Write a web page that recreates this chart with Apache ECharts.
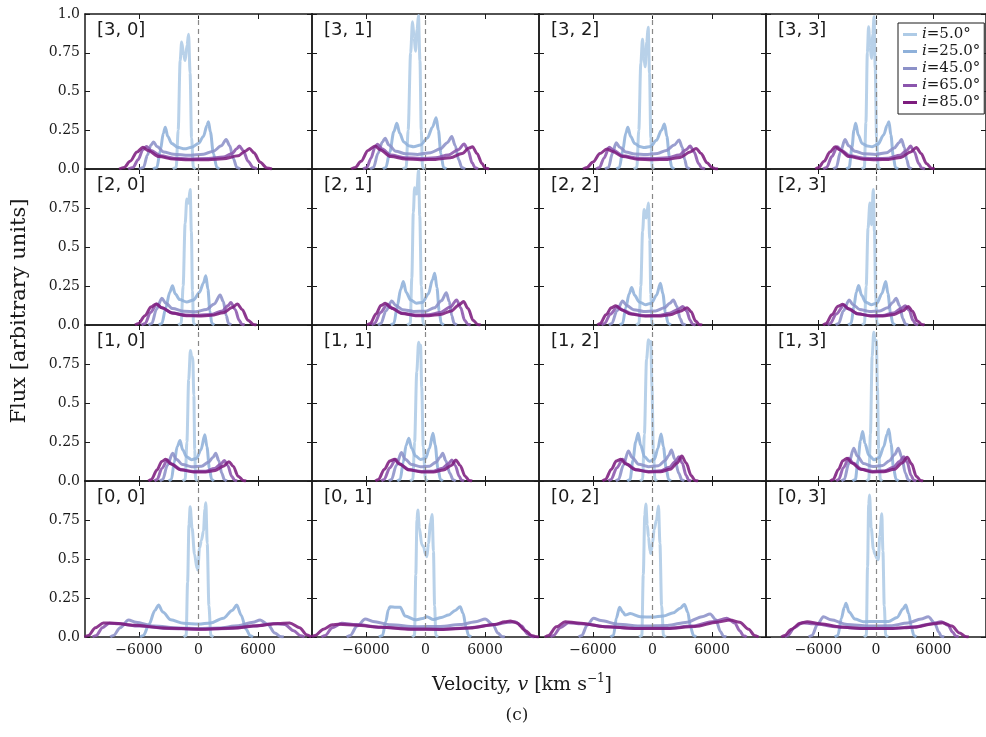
<!DOCTYPE html>
<html><head><meta charset="utf-8">
<script src="https://cdn.jsdelivr.net/npm/echarts@6/dist/echarts.min.js"></script>
<style>html,body{margin:0;padding:0;background:#fff}#c{width:986px;height:737px}</style>
</head><body><div id="c"></div>
<script>
const inclinations = ['i=5.0°','i=25.0°','i=45.0°','i=65.0°','i=85.0°'];
const lineColors = ['#aecbe6','#8fb1da','#8c91c8','#8b55ad','#7d1c7e'];
const xTicks = [-6000, 0, 6000];
const yTickLabels = {0:'0.0', 0.25:'0.25', 0.5:'0.5', 0.75:'0.75', 1:'1.0'};

// each panel: profiles for i = 5, 25, 45, 65, 85 deg, points [velocity km/s, flux]
const P30 = [
 [[-2600,0],[-2250,0.01],[-2050,0.25],[-1850,0.7],[-1700,0.82],[-1500,0.74],[-1350,0.7],[-1150,0.8],[-1000,0.87],[-850,0.62],[-700,0.2],[-520,0.01],[-300,0]],
 [[-4600,0],[-4200,0.01],[-3850,0.12],[-3550,0.23],[-3350,0.27],[-3100,0.21],[-2700,0.165],[-2100,0.14],[-1400,0.13],[-700,0.14],[0,0.165],[500,0.21],[850,0.28],[1000,0.305],[1200,0.24],[1500,0.1],[1850,0.01],[2100,0]],
 [[-6000,0],[-5550,0.01],[-5150,0.09],[-4800,0.155],[-4530,0.175],[-4200,0.145],[-3500,0.11],[-2500,0.095],[-1000,0.088],[500,0.095],[1500,0.115],[2300,0.15],[2790,0.19],[3150,0.15],[3500,0.07],[3870,0.01],[4200,0]],
 [[-7100,0],[-6600,0.01],[-6100,0.06],[-5600,0.125],[-5250,0.145],[-4800,0.12],[-3800,0.085],[-2500,0.07],[-1000,0.065],[1000,0.067],[2500,0.078],[3400,0.1],[3850,0.13],[4130,0.148],[4500,0.12],[5000,0.05],[5500,0.01],[5900,0]],
 [[-8000,0],[-7500,0.01],[-6900,0.05],[-6200,0.11],[-5600,0.14],[-5100,0.12],[-4000,0.08],[-2500,0.064],[-1000,0.06],[1000,0.06],[2500,0.066],[4000,0.085],[4700,0.115],[5140,0.133],[5600,0.105],[6200,0.045],[6900,0.006],[7400,0]]
];
const P31 = [
 [[-2300,0],[-1950,0.01],[-1750,0.25],[-1500,0.75],[-1310,0.95],[-1150,0.85],[-1010,0.76],[-850,0.9],[-710,0.99],[-560,0.7],[-430,0.25],[-300,0.01],[-100,0]],
 [[-4300,0],[-4000,0.01],[-3600,0.11],[-3200,0.24],[-2890,0.295],[-2600,0.23],[-2200,0.175],[-1700,0.15],[-1200,0.143],[-500,0.155],[200,0.2],[700,0.27],[1076,0.331],[1300,0.25],[1550,0.1],[1815,0.01],[2100,0]],
 [[-5600,0],[-5240,0.01],[-4800,0.1],[-4350,0.175],[-4070,0.198],[-3700,0.155],[-3000,0.115],[-2000,0.098],[-800,0.094],[500,0.105],[1500,0.13],[2200,0.17],[2655,0.209],[3000,0.15],[3350,0.06],[3660,0.01],[4000,0]],
 [[-6300,0],[-5920,0.01],[-5500,0.07],[-5100,0.14],[-4840,0.159],[-4400,0.13],[-3500,0.09],[-2000,0.073],[-500,0.068],[1000,0.072],[2300,0.09],[3300,0.125],[3900,0.161],[4300,0.12],[4700,0.04],[5000,0.008],[5300,0]],
 [[-7500,0],[-7090,0.01],[-6500,0.05],[-5800,0.12],[-5075,0.148],[-4600,0.125],[-3500,0.08],[-2000,0.065],[-500,0.06],[1000,0.062],[2500,0.072],[3700,0.1],[4400,0.135],[4740,0.144],[5200,0.1],[5700,0.035],[6020,0.006],[6400,0]]
];
const P32 = [
 [[-1900,0],[-1580,0.01],[-1380,0.25],[-1180,0.68],[-1008,0.837],[-870,0.72],[-740,0.66],[-580,0.82],[-437,0.914],[-300,0.62],[-170,0.2],[-34,0.01],[150,0]],
 [[-3650,0],[-3330,0.01],[-3000,0.12],[-2700,0.23],[-2487,0.269],[-2200,0.21],[-1800,0.165],[-1300,0.145],[-800,0.138],[-200,0.145],[400,0.185],[900,0.25],[1210,0.29],[1450,0.21],[1700,0.08],[1950,0.01],[2200,0]],
 [[-4800,0],[-4437,0.01],[-4050,0.1],[-3664,0.17],[-3300,0.14],[-2700,0.11],[-1800,0.097],[-700,0.093],[500,0.1],[1400,0.12],[2200,0.155],[2689,0.187],[3000,0.14],[3250,0.06],[3462,0.01],[3750,0]],
 [[-5700,0],[-5344,0.01],[-4900,0.07],[-4370,0.14],[-3900,0.12],[-3000,0.085],[-1500,0.07],[0,0.068],[1500,0.072],[2700,0.09],[3400,0.125],[3800,0.148],[4200,0.11],[4650,0.035],[4975,0.006],[5300,0]],
 [[-7000,0],[-6620,0.01],[-6000,0.045],[-5300,0.1],[-4605,0.129],[-4100,0.115],[-3000,0.08],[-1500,0.063],[0,0.06],[1500,0.062],[2800,0.075],[3800,0.11],[4403,0.133],[4900,0.1],[5500,0.04],[6000,0.01],[6320,0.002],[6600,0]]
];
const P33 = [
 [[-1500,0],[-1210,0.01],[-1050,0.3],[-900,0.75],[-773,0.918],[-620,0.79],[-470,0.714],[-330,0.87],[-200,0.983],[-80,0.65],[60,0.2],[235,0.01],[450,0]],
 [[-3100,0],[-2790,0.01],[-2500,0.14],[-2300,0.25],[-2118,0.295],[-1850,0.22],[-1450,0.165],[-900,0.148],[-400,0.144],[200,0.16],[800,0.22],[1150,0.28],[1345,0.305],[1550,0.22],[1800,0.08],[2017,0.01],[2300,0]],
 [[-4450,0],[-4134,0.01],[-3700,0.11],[-3227,0.19],[-2850,0.15],[-2200,0.115],[-1300,0.098],[0,0.094],[1100,0.105],[1900,0.135],[2400,0.17],[2655,0.19],[2950,0.14],[3200,0.06],[3430,0.01],[3700,0]],
 [[-5500,0],[-5140,0.01],[-4600,0.08],[-4034,0.144],[-3600,0.12],[-2700,0.085],[-1300,0.07],[0,0.067],[1300,0.07],[2500,0.088],[3200,0.12],[3597,0.148],[4000,0.11],[4450,0.035],[4770,0.006],[5100,0]],
 [[-6300,0],[-5980,0.01],[-5400,0.05],[-4800,0.11],[-4235,0.144],[-3800,0.125],[-2800,0.08],[-1300,0.063],[0,0.06],[1300,0.062],[2600,0.075],[3600,0.11],[4200,0.138],[4700,0.1],[5250,0.035],[5780,0.005],[6100,0]]
];
const P20 = [
 [[-2050,0],[-1748,0.01],[-1550,0.25],[-1350,0.65],[-1176,0.808],[-1010,0.78],[-840,0.868],[-720,0.6],[-610,0.22],[-504,0.01],[-300,0]],
 [[-4000,0],[-3700,0.01],[-3300,0.11],[-2900,0.21],[-2622,0.251],[-2350,0.2],[-1900,0.163],[-1200,0.148],[-500,0.16],[100,0.21],[500,0.27],[740,0.315],[950,0.23],[1150,0.09],[1345,0.01],[1600,0]],
 [[-5050,0],[-4700,0.01],[-4250,0.1],[-3700,0.171],[-3300,0.14],[-2600,0.105],[-1500,0.088],[-300,0.085],[800,0.1],[1600,0.135],[2185,0.193],[2500,0.15],[2800,0.06],[3025,0.01],[3300,0]],
 [[-5750,0],[-5380,0.01],[-4850,0.08],[-4200,0.135],[-3700,0.11],[-2700,0.078],[-1300,0.064],[0,0.062],[1300,0.068],[2400,0.09],[3000,0.125],[3260,0.144],[3700,0.1],[4100,0.03],[4370,0.005],[4650,0]],
 [[-6400,0],[-6050,0.01],[-5400,0.06],[-4800,0.115],[-4270,0.135],[-3700,0.11],[-2600,0.075],[-1200,0.06],[0,0.058],[1300,0.062],[2500,0.078],[3400,0.112],[3930,0.135],[4400,0.1],[5000,0.03],[5550,0.004],[5850,0]]
];
const P21 = [
 [[-1850,0],[-1540,0.01],[-1380,0.3],[-1230,0.72],[-1100,0.88],[-900,0.84],[-700,0.99],[-580,0.7],[-420,0.25],[-240,0.01],[-50,0]],
 [[-3500,0],[-3186,0.01],[-2850,0.12],[-2500,0.23],[-2232,0.279],[-1950,0.21],[-1500,0.16],[-900,0.14],[-300,0.145],[300,0.2],[700,0.29],[932,0.332],[1150,0.24],[1380,0.09],[1582,0.01],[1850,0]],
 [[-4800,0],[-4486,0.01],[-4000,0.09],[-3403,0.154],[-3000,0.125],[-2300,0.098],[-1200,0.087],[0,0.088],[900,0.11],[1600,0.155],[2102,0.206],[2400,0.15],[2650,0.06],[2882,0.01],[3150,0]],
 [[-5450,0],[-5136,0.01],[-4550,0.08],[-3836,0.133],[-3300,0.105],[-2300,0.075],[-1000,0.064],[300,0.065],[1500,0.08],[2500,0.115],[3143,0.161],[3550,0.11],[3950,0.03],[4270,0.005],[4550,0]],
 [[-5900,0],[-5570,0.01],[-5000,0.07],[-4500,0.125],[-4053,0.139],[-3500,0.11],[-2400,0.074],[-1000,0.06],[300,0.06],[1500,0.067],[2600,0.09],[3400,0.13],[3836,0.15],[4300,0.105],[4800,0.03],[5266,0.004],[5550,0]]
];
const P22 = [
 [[-1650,0],[-1365,0.01],[-1180,0.25],[-1000,0.6],[-845,0.74],[-630,0.686],[-412,0.782],[-280,0.55],[-170,0.2],[-65,0.01],[150,0]],
 [[-3300,0],[-3013,0.01],[-2700,0.11],[-2350,0.2],[-2102,0.24],[-1800,0.19],[-1350,0.148],[-700,0.13],[-100,0.14],[400,0.19],[802,0.268],[1050,0.2],[1300,0.08],[1582,0.01],[1850,0]],
 [[-4400,0],[-4096,0.01],[-3600,0.09],[-3013,0.154],[-2600,0.125],[-1900,0.098],[-900,0.087],[300,0.09],[1200,0.11],[1750,0.14],[2102,0.161],[2450,0.12],[2800,0.04],[3056,0.006],[3350,0]],
 [[-5150,0],[-4833,0.01],[-4250,0.07],[-3533,0.118],[-3000,0.095],[-2000,0.07],[-700,0.06],[600,0.061],[1700,0.075],[2600,0.1],[3056,0.118],[3450,0.09],[3800,0.03],[4053,0.005],[4350,0]],
 [[-5550,0],[-5266,0.01],[-4700,0.065],[-4150,0.11],[-3706,0.124],[-3200,0.1],[-2200,0.07],[-800,0.057],[600,0.057],[1800,0.066],[2800,0.088],[3490,0.111],[3900,0.085],[4350,0.025],[4703,0.004],[5000,0]]
];
const P23 = [
 [[-1450,0],[-1196,0.01],[-1020,0.25],[-830,0.62],[-633,0.782],[-460,0.643],[-286,0.868],[-160,0.6],[-40,0.2],[104,0.01],[300,0]],
 [[-2900,0],[-2584,0.01],[-2300,0.12],[-2050,0.21],[-1804,0.253],[-1500,0.19],[-1100,0.148],[-500,0.13],[100,0.14],[600,0.2],[1014,0.279],[1250,0.2],[1500,0.08],[1751,0.01],[2000,0]],
 [[-4200,0],[-3885,0.01],[-3400,0.09],[-2801,0.161],[-2400,0.13],[-1700,0.1],[-700,0.087],[400,0.09],[1200,0.11],[1750,0.145],[2098,0.171],[2450,0.125],[2800,0.04],[3052,0.006],[3350,0]],
 [[-5050,0],[-4752,0.01],[-4150,0.07],[-3321,0.129],[-2800,0.1],[-1800,0.07],[-500,0.06],[700,0.061],[1800,0.077],[2600,0.105],[3052,0.124],[3450,0.095],[3850,0.03],[4135,0.005],[4400,0]],
 [[-5500,0],[-5186,0.01],[-4600,0.065],[-3950,0.12],[-3451,0.133],[-2900,0.105],[-1900,0.072],[-600,0.058],[700,0.058],[1900,0.068],[2800,0.092],[3355,0.118],[3800,0.088],[4300,0.025],[4785,0.004],[5050,0]]
];
const P10 = [
 [[-1600,0],[-1338,0.01],[-1170,0.25],[-990,0.65],[-817,0.837],[-700,0.8],[-580,0.79],[-470,0.55],[-380,0.2],[-296,0.01],[-100,0]],
 [[-3000,0],[-2729,0.01],[-2450,0.12],[-2150,0.22],[-1860,0.259],[-1600,0.2],[-1200,0.155],[-700,0.137],[-200,0.145],[250,0.2],[637,0.296],[850,0.22],[1100,0.08],[1327,0.01],[1550,0]],
 [[-3900,0],[-3598,0.01],[-3150,0.1],[-2607,0.178],[-2250,0.14],[-1600,0.105],[-700,0.092],[300,0.095],[1000,0.12],[1450,0.15],[1738,0.178],[2050,0.13],[2350,0.05],[2607,0.008],[2850,0]],
 [[-4450,0],[-4171,0.01],[-3700,0.08],[-3128,0.135],[-2650,0.105],[-1700,0.072],[-500,0.061],[700,0.063],[1600,0.08],[2200,0.105],[2607,0.131],[2950,0.1],[3350,0.03],[3650,0.005],[3900,0]],
 [[-5050,0],[-4750,0.01],[-4200,0.07],[-3700,0.125],[-3302,0.139],[-2800,0.11],[-1800,0.072],[-500,0.058],[700,0.058],[1700,0.068],[2500,0.095],[3070,0.124],[3500,0.095],[4000,0.03],[4519,0.004],[4800,0]]
];
const P11 = [
 [[-1550,0],[-1275,0.01],[-1100,0.25],[-880,0.7],[-695,0.889],[-600,0.86],[-500,0.87],[-380,0.6],[-230,0.22],[0,0.01],[200,0]],
 [[-2850,0],[-2549,0.01],[-2250,0.12],[-1950,0.23],[-1680,0.274],[-1400,0.21],[-1000,0.16],[-500,0.138],[0,0.145],[400,0.21],[753,0.306],[980,0.23],[1250,0.08],[1506,0.01],[1750,0]],
 [[-3700,0],[-3418,0.01],[-2950,0.1],[-2433,0.182],[-2050,0.14],[-1400,0.105],[-500,0.092],[400,0.095],[1050,0.12],[1450,0.15],[1738,0.178],[2050,0.13],[2450,0.05],[2780,0.008],[3050,0]],
 [[-4450,0],[-4171,0.01],[-3600,0.085],[-3013,0.139],[-2550,0.105],[-1600,0.072],[-400,0.061],[800,0.063],[1700,0.082],[2300,0.11],[2665,0.135],[3000,0.1],[3400,0.03],[3650,0.005],[3900,0]],
 [[-5050,0],[-4750,0.01],[-4150,0.075],[-3600,0.128],[-3128,0.139],[-2650,0.11],[-1700,0.072],[-400,0.058],[800,0.058],[1800,0.07],[2600,0.1],[3070,0.135],[3500,0.1],[4000,0.03],[4403,0.004],[4700,0]]
];
const P12 = [
 [[-1250,0],[-1000,0.01],[-820,0.3],[-600,0.78],[-405,0.906],[-290,0.88],[-174,0.895],[-50,0.6],[80,0.2],[250,0.01],[450,0]],
 [[-2550,0],[-2260,0.01],[-1980,0.13],[-1700,0.25],[-1448,0.306],[-1200,0.23],[-800,0.155],[-300,0.126],[200,0.14],[550,0.21],[869,0.302],[1100,0.22],[1380,0.08],[1622,0.01],[1850,0]],
 [[-3700,0],[-3418,0.01],[-2950,0.1],[-2433,0.193],[-2050,0.15],[-1400,0.108],[-400,0.092],[600,0.098],[1250,0.13],[1650,0.165],[1912,0.199],[2250,0.14],[2650,0.05],[2955,0.008],[3200,0]],
 [[-4450,0],[-4171,0.01],[-3600,0.085],[-3013,0.139],[-2550,0.105],[-1600,0.072],[-400,0.061],[800,0.065],[1700,0.088],[2300,0.125],[2665,0.156],[3000,0.115],[3400,0.035],[3650,0.005],[3900,0]],
 [[-5050,0],[-4750,0.01],[-4150,0.075],[-3650,0.128],[-3186,0.139],[-2700,0.11],[-1700,0.072],[-400,0.058],[800,0.06],[1800,0.075],[2500,0.115],[2955,0.161],[3400,0.115],[3900,0.035],[4288,0.004],[4600,0]]
];
const P13 = [
 [[-1000,0],[-750,0.01],[-580,0.3],[-400,0.8],[-232,0.953],[-100,0.9],[40,0.9],[150,0.6],[280,0.2],[450,0.01],[650,0]],
 [[-2450,0],[-2144,0.01],[-1880,0.13],[-1620,0.26],[-1390,0.317],[-1150,0.24],[-750,0.165],[-200,0.137],[350,0.15],[800,0.22],[1150,0.3],[1333,0.332],[1560,0.24],[1830,0.08],[2086,0.01],[2350,0]],
 [[-3600,0],[-3302,0.01],[-2850,0.11],[-2317,0.21],[-1950,0.16],[-1300,0.112],[-300,0.093],[700,0.1],[1400,0.13],[1950,0.17],[2317,0.21],[2700,0.15],[3050,0.05],[3360,0.008],[3600,0]],
 [[-4150,0],[-3882,0.01],[-3400,0.085],[-2839,0.146],[-2400,0.115],[-1500,0.076],[-300,0.061],[900,0.066],[1800,0.088],[2450,0.125],[2897,0.156],[3250,0.12],[3650,0.035],[3940,0.005],[4200,0]],
 [[-4750,0],[-4461,0.01],[-3900,0.075],[-3450,0.13],[-3013,0.146],[-2500,0.115],[-1600,0.075],[-400,0.058],[800,0.06],[1900,0.075],[2700,0.115],[3244,0.152],[3700,0.11],[4200,0.03],[4635,0.004],[4900,0]]
];
const P00 = [
 [[-1500,0],[-1245,0.01],[-1100,0.35],[-960,0.72],[-840,0.835],[-650,0.7],[-400,0.53],[-150,0.44],[-67,0.43],[100,0.57],[300,0.62],[500,0.68],[650,0.82],[740,0.861],[880,0.6],[1050,0.2],[1245,0.01],[1500,0]],
 [[-5900,0],[-5546,0.01],[-5000,0.08],[-4400,0.17],[-4033,0.205],[-3600,0.16],[-2800,0.11],[-1500,0.088],[0,0.083],[1200,0.09],[2500,0.12],[3400,0.17],[3865,0.205],[4300,0.14],[4800,0.05],[5210,0.008],[5500,0]],
 [[-8900,0],[-8571,0.01],[-7900,0.06],[-7059,0.109],[-6300,0.095],[-4500,0.07],[-2000,0.058],[0,0.055],[2000,0.058],[4000,0.072],[5500,0.095],[6218,0.109],[7000,0.08],[7700,0.025],[8235,0.004],[8600,0]],
 [[-10700,0],[-10300,0.01],[-9700,0.06],[-9000,0.088],[-8000,0.085],[-6000,0.07],[-3000,0.055],[0,0.05],[3000,0.055],[5500,0.07],[7500,0.085],[8700,0.08],[9600,0.04],[10300,0.008],[10700,0]],
 [[-11500,0],[-11100,0.01],[-10400,0.06],[-9600,0.09],[-8500,0.088],[-6500,0.075],[-3500,0.058],[0,0.05],[3500,0.057],[6000,0.072],[8000,0.087],[9200,0.09],[10200,0.06],[10900,0.015],[11400,0]]
];
const P01 = [
 [[-1350,0],[-1109,0.01],[-980,0.4],[-860,0.75],[-773,0.814],[-620,0.7],[-370,0.59],[-200,0.58],[0,0.53],[134,0.515],[300,0.6],[500,0.73],[672,0.786],[800,0.55],[920,0.2],[1042,0.01],[1250,0]],
 [[-4700,0],[-4337,0.01],[-4000,0.1],[-3750,0.175],[-3563,0.194],[-3000,0.19],[-2555,0.19],[-2050,0.135],[-1042,0.11],[-300,0.118],[134,0.13],[800,0.112],[1600,0.125],[2319,0.141],[3000,0.17],[3496,0.194],[3800,0.15],[4100,0.06],[4337,0.01],[4600,0]],
 [[-7950,0],[-7597,0.01],[-6900,0.07],[-6084,0.115],[-5300,0.1],[-3500,0.078],[-1000,0.066],[1500,0.068],[3500,0.08],[5200,0.1],[6017,0.115],[6800,0.08],[7300,0.025],[7697,0.004],[8000,0]],
 [[-10500,0],[-10118,0.01],[-9400,0.06],[-8437,0.088],[-7000,0.08],[-4500,0.062],[-1500,0.052],[1500,0.05],[4500,0.06],[7000,0.08],[8400,0.095],[9042,0.098],[9700,0.07],[10300,0.02],[10723,0.003],[11000,0]],
 [[-11450,0.003],[-11126,0.01],[-10300,0.05],[-9400,0.078],[-8773,0.081],[-7000,0.076],[-4500,0.062],[-1500,0.05],[1500,0.048],[4500,0.058],[7000,0.08],[8000,0.097],[8538,0.103],[9200,0.09],[10100,0.04],[10700,0.01],[11060,0.003],[11450,0]]
];
const P02 = [
 [[-1350,0],[-1076,0.01],[-930,0.4],[-780,0.78],[-672,0.853],[-530,0.72],[-403,0.64],[-250,0.55],[-168,0.536],[0,0.6],[168,0.69],[400,0.75],[605,0.84],[750,0.6],[920,0.2],[1109,0.01],[1350,0]],
 [[-4250,0],[-3933,0.01],[-3650,0.12],[-3328,0.19],[-3000,0.16],[-2756,0.141],[-2252,0.15],[-1244,0.13],[0,0.128],[1100,0.135],[2118,0.156],[2800,0.185],[3227,0.209],[3550,0.16],[3850,0.06],[4134,0.01],[4400,0]],
 [[-7450,0],[-7126,0.01],[-6600,0.075],[-5950,0.12],[-5200,0.105],[-3500,0.082],[-1000,0.07],[1500,0.074],[3500,0.095],[5000,0.13],[5815,0.147],[6400,0.11],[6850,0.035],[7160,0.005],[7450,0]],
 [[-10300,0],[-9983,0.01],[-9300,0.06],[-8470,0.092],[-7200,0.085],[-4500,0.065],[-1500,0.055],[1500,0.056],[4000,0.07],[6200,0.1],[7496,0.12],[8300,0.09],[8800,0.04],[9176,0.008],[9500,0]],
 [[-10850,0],[-10487,0.01],[-9700,0.065],[-8807,0.098],[-7500,0.09],[-4800,0.066],[-1800,0.055],[1500,0.054],[4300,0.067],[6500,0.095],[7832,0.109],[8800,0.095],[9700,0.05],[10300,0.01],[10700,0]]
];
const P03 = [
 [[-1250,0],[-1008,0.01],[-880,0.45],[-760,0.85],[-672,0.91],[-500,0.7],[-269,0.56],[-100,0.53],[67,0.506],[235,0.495],[400,0.65],[605,0.79],[720,0.55],[860,0.2],[1008,0.01],[1250,0]],
 [[-4300,0],[-3966,0.01],[-3600,0.12],[-3300,0.19],[-3126,0.216],[-2800,0.16],[-2200,0.115],[-1300,0.098],[0,0.1],[1300,0.1],[2200,0.125],[2800,0.18],[3093,0.205],[3400,0.15],[3700,0.06],[3933,0.01],[4200,0]],
 [[-7000,0],[-6655,0.01],[-6100,0.08],[-5479,0.13],[-4700,0.11],[-3000,0.08],[-800,0.07],[1500,0.072],[3300,0.09],[4700,0.115],[5445,0.13],[6100,0.09],[6550,0.03],[6790,0.005],[7100,0]],
 [[-9500,0],[-9176,0.01],[-8500,0.06],[-7664,0.092],[-6500,0.085],[-4000,0.065],[-1500,0.055],[1500,0.055],[4000,0.065],[5800,0.085],[6790,0.098],[7500,0.075],[8000,0.03],[8302,0.006],[8600,0]],
 [[-9850,0],[-9512,0.01],[-8800,0.05],[-7900,0.088],[-7160,0.098],[-5800,0.085],[-3500,0.062],[-1000,0.054],[1500,0.054],[4000,0.063],[6000,0.085],[6958,0.092],[7900,0.07],[8700,0.025],[9310,0.004],[9650,0]]
];

const panelRows = [[P30,P31,P32,P33],[P20,P21,P22,P23],[P10,P11,P12,P13],[P00,P01,P02,P03]];
const rowNames = [3,2,1,0];

const colLeft = [85, 312, 539, 766];
const rowTop = [14, 169, 325, 481];
const rowH = [155, 156, 156, 156];
const panelW = 227;
const XMIN = -11450, XMAX = 11450;
const serif = 'DejaVu Serif';
const ink = '#1a1a1a';

const grids = [], xAxes = [], yAxes = [], series = [], graphics = [];
let g = 0;
for (let r = 0; r < 4; r++) {
  for (let c = 0; c < 4; c++) {
    grids.push({left: colLeft[c], top: rowTop[r], width: panelW, height: rowH[r], containLabel: false});
    const bottomRow = r === 3, firstCol = c === 0, topRow = r === 0;
    const axLine = {show: true, onZero: false, lineStyle: {color: ink, width: 1.5}};
    const tick = {show: true, inside: true, length: 5, lineStyle: {color: ink, width: 1}};
    xAxes.push({gridIndex: g, type: 'value', position: 'bottom', min: XMIN, max: XMAX,
      axisLine: axLine, splitLine: {show: false},
      axisTick: Object.assign({}, tick, {customValues: xTicks}),
      axisLabel: {show: bottomRow, customValues: xTicks, margin: 6, fontFamily: serif, fontSize: 14, color: ink,
        formatter: v => (v < 0 ? '\u2212' + Math.abs(v) : String(v))}});
    xAxes.push({gridIndex: g, type: 'value', position: 'top', min: XMIN, max: XMAX,
      axisLine: axLine, splitLine: {show: false},
      axisTick: Object.assign({}, tick, {customValues: xTicks}),
      axisLabel: {show: false}});
    yAxes.push({gridIndex: g, type: 'value', position: 'left', min: 0, max: 1, interval: 0.25,
      axisLine: axLine, splitLine: {show: false}, axisTick: tick,
      axisLabel: {show: firstCol, margin: 5, fontFamily: serif, fontSize: 14, color: ink,
        formatter: v => (v === 1 && !topRow) ? '' : (yTickLabels[v] !== undefined ? yTickLabels[v] : String(v))}});
    yAxes.push({gridIndex: g, type: 'value', position: 'right', min: 0, max: 1, interval: 0.25,
      axisLine: axLine, splitLine: {show: false}, axisTick: tick, axisLabel: {show: false}});
    const profiles = panelRows[r][c];
    profiles.forEach((pts, k) => {
      const s = {type: 'line', name: inclinations[k], xAxisIndex: 2*g, yAxisIndex: 2*g,
        data: pts, showSymbol: false, symbol: 'none', smooth: 0.3, smoothMonotone: 'x',
        clip: true, silent: true, z: 2 + k,
        lineStyle: {color: lineColors[k], width: 3, opacity: 0.88},
        itemStyle: {color: lineColors[k]}};
      if (k === 4) {
        s.markLine = {silent: true, symbol: ['none','none'], label: {show: false},
          lineStyle: {type: [5,4], color: '#888', width: 1.2}, data: [{xAxis: 0}]};
      }
      series.push(s);
    });
    graphics.push({type: 'text', left: colLeft[c] + 12, top: rowTop[r] + 7, z: 20,
      style: {text: '[' + rowNames[r] + ', ' + c + ']', fontFamily: 'DejaVu Sans', fontSize: 18, fill: ink}});
    g++;
  }
}

graphics.push({type: 'text', x: 20, y: 311, rotation: Math.PI/2, z: 20,
  style: {text: 'Flux [arbitrary units]', fontFamily: serif, fontSize: 21, fill: ink, align: 'center', verticalAlign: 'middle'}});
graphics.push({type: 'text', x: 522, y: 684, z: 20,
  style: {text: '{a|Velocity, }{v|v}{a| [km s}{s|\u22121}{a|]}', align: 'center', verticalAlign: 'middle',
    rich: {a: {fontFamily: serif, fontSize: 19, fill: ink, verticalAlign: 'bottom', lineHeight: 22},
           v: {fontFamily: serif, fontSize: 19, fontStyle: 'italic', fill: ink, verticalAlign: 'bottom', lineHeight: 22},
           s: {fontFamily: serif, fontSize: 12, fill: ink, verticalAlign: 'top', lineHeight: 22}}}});
graphics.push({type: 'text', x: 517, y: 716, z: 20,
  style: {text: '(c)', fontFamily: serif, fontSize: 17, fill: ink, align: 'center', verticalAlign: 'middle'}});

const chart = echarts.init(document.getElementById('c'), null, {renderer: 'canvas'});
chart.setOption({
  animation: false,
  backgroundColor: '#fff',
  grid: grids, xAxis: xAxes, yAxis: yAxes, series: series, graphic: graphics,
  legend: {data: inclinations, orient: 'vertical', left: 898, top: 23, itemWidth: 14, itemHeight: 3, icon: 'rect',
    itemGap: 2, padding: [4, 4, 4, 5], borderColor: ink, borderWidth: 1, borderRadius: 0, backgroundColor: '#fff',
    selectedMode: false, z: 30,
    textStyle: {fontFamily: serif, fontSize: 15, color: ink, lineHeight: 15,
      rich: {it: {fontFamily: serif, fontSize: 15, fontStyle: 'italic', color: ink, lineHeight: 15}}},
    formatter: n => '{it|i}' + n.slice(1)}
});
</script></body></html>
